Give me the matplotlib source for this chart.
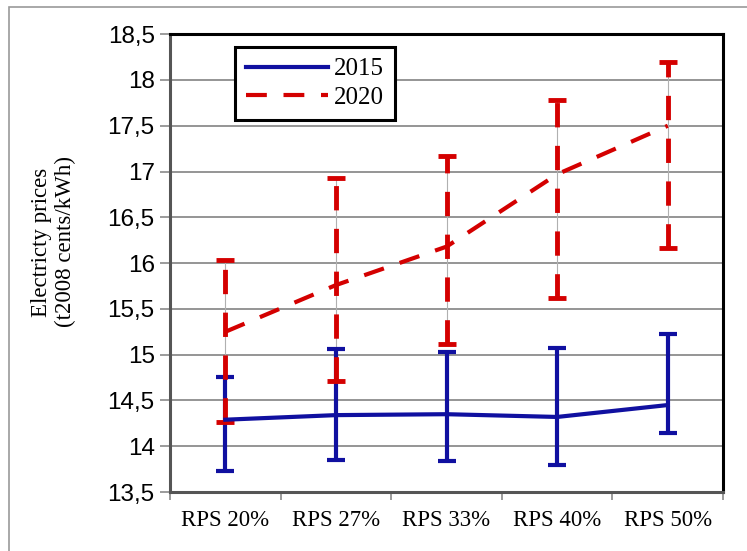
import matplotlib

matplotlib.use("Agg")
import matplotlib.pyplot as plt
from matplotlib.patches import Rectangle
from matplotlib.ticker import FixedLocator, FuncFormatter

# Scenario categories and price projections (mean, upper, lower)
categories = ["RPS 20%", "RPS 27%", "RPS 33%", "RPS 40%", "RPS 50%"]

mean_2015 = [14.29, 14.34, 14.35, 14.32, 14.45]
high_2015 = [14.76, 15.06, 15.03, 15.07, 15.23]
low_2015 = [13.73, 13.85, 13.84, 13.79, 14.15]

mean_2020 = [15.25, 15.76, 16.18, 16.97, 17.50]
high_2020 = [16.03, 16.93, 17.17, 17.78, 18.20]
low_2020 = [14.27, 14.71, 15.12, 15.62, 16.16]

BLUE = "#1010a0"
RED = "#d40000"
SERIF = "Liberation Serif"
SANS = "Liberation Sans"

fig = plt.figure(figsize=(7.47, 5.51), dpi=100)
ax = fig.add_axes([0.2276, 0.107, 0.7404, 0.831])

# outer chart border
fig.patches.append(Rectangle((9 / 747, -0.1), 1.2, 1.1 - 7 / 551,
                             transform=fig.transFigure, fill=False,
                             edgecolor="#9a9a9a", lw=1.2, zorder=0))

x = list(range(len(categories)))

# 2020 range lines: thin grey high-low line behind dashed bars
ax.vlines(x, low_2020, high_2020, colors="#b0b0b0", lw=0.8, zorder=2)

err15 = [[m - l for m, l in zip(mean_2015, low_2015)],
         [h - m for m, h in zip(mean_2015, high_2015)]]
err20 = [[m - l for m, l in zip(mean_2020, low_2020)],
         [h - m for m, h in zip(mean_2020, high_2020)]]

ax.errorbar(x, mean_2015, yerr=err15, fmt="none", ecolor=BLUE,
            elinewidth=3, capsize=6.5, capthick=3, zorder=3)
eb = ax.errorbar(x, mean_2020, yerr=err20, fmt="none", ecolor=RED,
                 elinewidth=3.5, capsize=6.5, capthick=3.5, zorder=3)
eb.lines[2][0].set_linestyle((0, (5, 3.8)))

ax.plot(x, mean_2015, color=BLUE, lw=3, label="2015", zorder=4)
ax.plot(x, mean_2020, color=RED, lw=3, dashes=(5, 4), label="2020",
        zorder=4)

ax.set_xlim(-0.5, len(categories) - 0.5)
ax.set_ylim(13.5, 18.5)
ax.set_yticks([13.5 + 0.5 * i for i in range(11)])
ax.yaxis.set_major_formatter(
    FuncFormatter(lambda v, _: f"{v:g}".replace(".", ",")))
ax.set_xticks(x)
ax.set_xticklabels(categories, fontfamily=SERIF, fontsize=16.5)
ax.xaxis.set_minor_locator(FixedLocator([i - 0.5 for i in range(len(x) + 1)]))
ax.tick_params(axis="x", which="major", length=0, pad=13)
ax.tick_params(axis="x", which="minor", length=6, width=1.2,
               color="#8a8a8a")
ax.tick_params(axis="y", length=7, width=1.2, color="#8a8a8a",
               labelsize=17.5, pad=4)
for lab in ax.get_yticklabels():
    lab.set_fontfamily(SANS)

ax.grid(axis="y", color="#8c8c8c", lw=1.3, zorder=1)
ax.set_axisbelow(True)

for side in ("top", "right"):
    ax.spines[side].set_linewidth(2.2)
    ax.spines[side].set_color("black")
for side in ("left", "bottom"):
    ax.spines[side].set_linewidth(2.2)
    ax.spines[side].set_color("#555555")

fig.text(0.072, 0.561, "Electricty prices\n(t2008 cents/kWh)", rotation=90,
         ha="center", va="center", fontfamily=SERIF, fontsize=16.5,
         linespacing=1.2)

leg = ax.legend(loc="upper left", bbox_to_anchor=(0.117, 0.973),
                prop={"family": SERIF, "size": 18}, handlelength=3.3,
                handletextpad=0.2, borderpad=0.45, borderaxespad=0,
                labelspacing=0.25, fancybox=False, framealpha=1,
                edgecolor="black")
leg.get_frame().set_linewidth(2.2)

fig.savefig("out.png", dpi=100)
